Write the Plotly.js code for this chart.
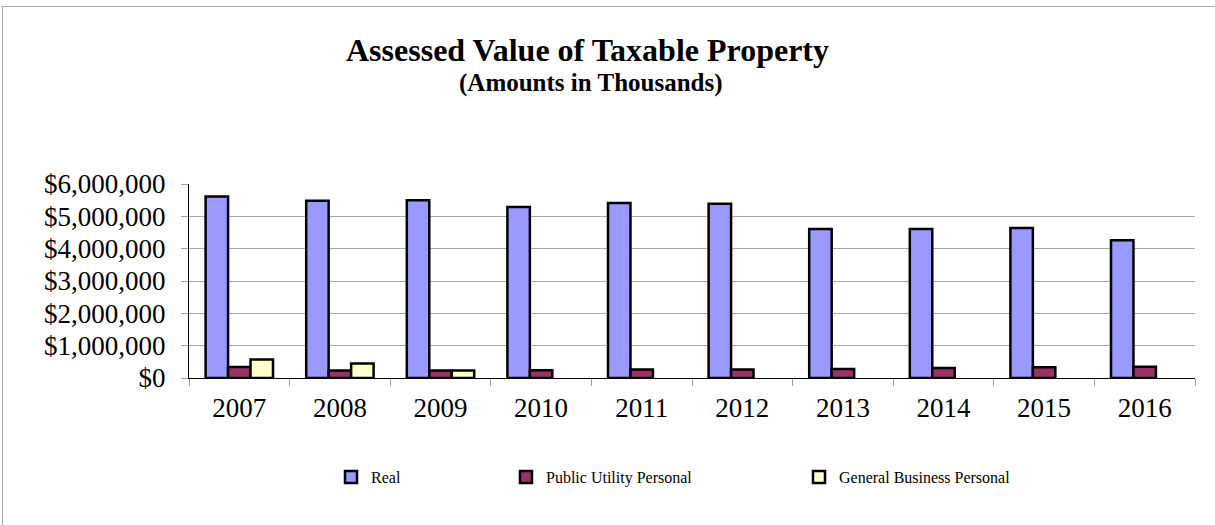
<!DOCTYPE html>
<html>
<head>
<meta charset="utf-8">
<script src="https://cdn.plot.ly/plotly-3.0.1.min.js"></script>
<style>
  html, body { margin: 0; padding: 0; background: #fff; }
  #wrap { position: relative; width: 1215px; height: 525px; }
  #chart { width: 1215px; height: 525px; }
  #frame { position: absolute; left: 2px; top: 6px; width: 1213px; height: 519px;
           border-left: 1px solid #a6a6a6; border-top: 1px solid #a6a6a6; pointer-events: none; }
</style>
</head>
<body>
<div id="wrap">
  <div id="chart"></div>
  <div id="frame"></div>
</div>
<script>
const years = ['2007','2008','2009','2010','2011','2012','2013','2014','2015','2016'];
const realValues = [5610000, 5480000, 5500000, 5290000, 5410000, 5390000, 4610000, 4610000, 4640000, 4260000];
const publicUtilityValues = [340000, 230000, 230000, 240000, 260000, 260000, 280000, 310000, 330000, 350000];
const generalBusinessValues = [570000, 450000, 230000, null, null, null, null, null, null, null];
const seriesNames = ['Real', 'Public Utility Personal', 'General Business Personal'];
const yTickVals = [0, 1000000, 2000000, 3000000, 4000000, 5000000, 6000000];
const yTickText = ['$0', '$1,000,000', '$2,000,000', '$3,000,000', '$4,000,000', '$5,000,000', '$6,000,000'];

const font = 'Liberation Serif, Times New Roman, serif';
const line = {color: '#000000', width: 2.5};

const traces = [
  {type: 'bar', name: seriesNames[0], x: years, y: realValues,
   marker: {color: '#9999ff', line: line}, legend: 'legend'},
  {type: 'bar', name: seriesNames[1], x: years, y: publicUtilityValues,
   marker: {color: '#993366', line: line}, legend: 'legend2'},
  {type: 'bar', name: seriesNames[2], x: years, y: generalBusinessValues,
   marker: {color: '#ffffcc', line: line}, legend: 'legend3'}
];

const legendBase = {orientation: 'h', xref: 'container', yref: 'container',
  yanchor: 'middle', y: 1 - 477/525, font: {family: font, size: 16, color: '#000'},
  bgcolor: 'rgba(0,0,0,0)', itemwidth: 30, tracegroupgap: 0};

const layout = {
  width: 1215, height: 525,
  margin: {l: 189, r: 20, t: 184, b: 147},
  paper_bgcolor: '#ffffff', plot_bgcolor: '#ffffff',
  barmode: 'group', bargap: 0.33, bargroupgap: 0,
  showlegend: true,
  legend: Object.assign({}, legendBase, {x: 331/1215}),
  legend2: Object.assign({}, legendBase, {x: 506/1215}),
  legend3: Object.assign({}, legendBase, {x: 799/1215}),
  xaxis: {
    type: 'category', showgrid: false, showline: true, linecolor: '#000', linewidth: 1,
    ticks: 'outside', tickson: 'boundaries', ticklen: 7, tickcolor: '#a0a0a0',
    ticklabelstandoff: 6,
    tickfont: {family: font, size: 27, color: '#000'}, zeroline: false
  },
  yaxis: {
    range: [0, 6000000], tickvals: yTickVals, ticktext: yTickText,
    showgrid: true, gridcolor: '#a6a6a6', gridwidth: 1,
    showline: true, linecolor: '#000', linewidth: 1,
    ticks: 'outside', ticklen: 7, tickcolor: '#a0a0a0',
    ticklabelstandoff: 10,
    tickfont: {family: font, size: 27, color: '#000'}, zeroline: false,
    fixedrange: true
  },
  annotations: [
    {text: '<b>Assessed Value of Taxable Property</b>', xref: 'paper', yref: 'paper',
     x: (587-189)/(1195-189), y: 1 + (184-50)/194, xanchor: 'center', yanchor: 'middle',
     showarrow: false, font: {family: font, size: 32, color: '#000'}},
    {text: '<b>(Amounts in Thousands)</b>', xref: 'paper', yref: 'paper',
     x: (591-189)/(1195-189), y: 1 + (184-83)/194, xanchor: 'center', yanchor: 'middle',
     showarrow: false, font: {family: font, size: 25, color: '#000'}}
  ]
};

Plotly.newPlot('chart', traces, layout, {displayModeBar: false, staticPlot: true});
</script>
</body>
</html>
